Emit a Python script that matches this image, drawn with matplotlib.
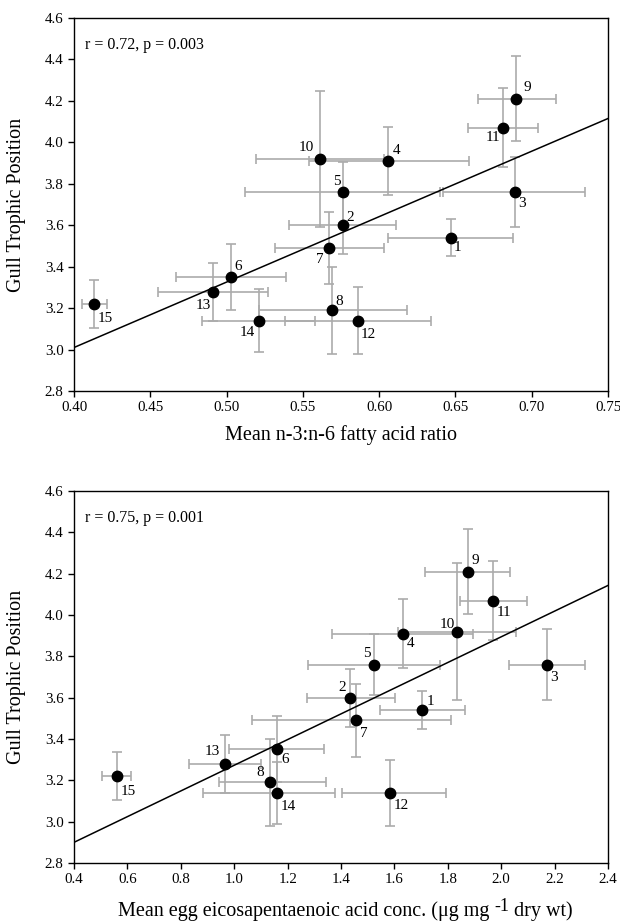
import matplotlib
matplotlib.use("Agg")
import matplotlib.pyplot as plt
from matplotlib.transforms import IdentityTransform
import numpy as np

plt.rcParams['font.family'] = ['Liberation Serif', 'DejaVu Serif']

# ── Data (site number, trophic position, errors) ──
sites = [1, 2, 3, 4, 5, 6, 7, 8, 9, 10, 11, 12, 13, 14, 15]
trophic = [3.54, 3.60, 3.76, 3.91, 3.76, 3.35, 3.49, 3.19, 4.21, 3.92, 4.07, 3.14, 3.28, 3.14, 3.22]
trophic_err = [0.09, 0.14, 0.17, 0.165, 0.147, 0.16, 0.175, 0.21, 0.205, 0.33, 0.19, 0.16, 0.14, 0.15, 0.117]

# n-3:n-6 ratio
ratio = [0.647, 0.576, 0.689, 0.606, 0.576, 0.503, 0.567, 0.569, 0.690, 0.561, 0.681, 0.586, 0.491, 0.521, 0.413]
ratio_lo = [0.606, 0.541, 0.642, 0.554, 0.512, 0.467, 0.532, 0.521, 0.665, 0.519, 0.658, 0.538, 0.455, 0.484, 0.405]
ratio_hi = [0.688, 0.611, 0.735, 0.659, 0.640, 0.539, 0.603, 0.618, 0.716, 0.603, 0.704, 0.634, 0.527, 0.558, 0.4215]

# EPA concentration
epa = [1.705, 1.433, 2.173, 1.633, 1.524, 1.160, 1.456, 1.135, 1.874, 1.834, 1.970, 1.585, 0.967, 1.160, 0.561]
epa_lo = [1.545, 1.274, 2.030, 1.367, 1.276, 0.982, 1.068, 0.942, 1.713, 1.612, 1.846, 1.405, 0.831, 0.883, 0.504]
epa_hi = [1.865, 1.604, 2.313, 1.893, 1.770, 1.338, 1.812, 1.345, 2.034, 2.056, 2.098, 1.793, 1.100, 1.378, 0.612]

# regression lines (end points)
fit1_x = [0.40, 0.75]
fit1_y = [3.01, 4.115]
fit2_x = [0.4, 2.4]
fit2_y = [2.90, 4.143]

# label offsets in pixels (dx, dy up)
off1 = {1: (7, -10), 2: (8, 8), 3: (7, -11), 4: (8, 10), 5: (-6, 11), 6: (7, 11), 7: (-9, -11),
        8: (7, 9), 9: (11, 11), 10: (-13, 11), 11: (-10, -10), 12: (10, -14), 13: (-10, -14),
        14: (-11, -12), 15: (11, -15)}
off2 = {1: (8, 9), 2: (-8, 10), 3: (7, -13), 4: (7, -10), 5: (-7, 11), 6: (8, -10), 7: (8, -13),
        8: (-10, 10), 9: (8, 11), 10: (-10, 7), 11: (11, -12), 12: (11, -13), 13: (-13, 12),
        14: (11, -14), 15: (11, -15)}

fig = plt.figure(figsize=(6.2, 9.22), dpi=100)
ax1 = fig.add_axes([0.1194, 0.5759, 0.8613, 0.4046])
ax2 = fig.add_axes([0.1194, 0.064, 0.8613, 0.4035])


def panel(ax, x, lo, hi, fx, fy, offs, stat):
    x = np.array(x)
    xerr = [x - np.array(lo), np.array(hi) - x]
    ax.errorbar(x, trophic, xerr=xerr, yerr=trophic_err, fmt='none', ecolor='#ababab',
                elinewidth=1.2, capsize=3.8, capthick=1.2, zorder=1)
    ax.plot(fx, fy, color='black', lw=1.1, zorder=2)
    ax.plot(x, trophic, 'o', color='black', ms=7.5, zorder=3)
    for s, xi, yi in zip(sites, x, trophic):
        ax.annotate(str(s), (xi, yi), xytext=offs[s], textcoords='offset pixels',
                    ha='center', va='center', fontsize=11)
    ax.text(0.02, 0.95, stat, transform=ax.transAxes, ha='left', va='top', fontsize=11.5)
    ax.set_ylim(2.8, 4.6)
    ax.set_yticks(np.arange(2.8, 4.61, 0.2))
    ax.set_yticklabels([f"{v:.1f}" for v in np.arange(2.8, 4.61, 0.2)])
    ax.tick_params(direction='out', length=4, width=1, labelsize=10.8, pad=3.5)
    for sp in ax.spines.values():
        sp.set_linewidth(1)
    ax.set_ylabel("Gull Trophic Position", fontsize=14.5)
    ax.yaxis.set_label_coords(-0.09, 0.5)


panel(ax1, ratio, ratio_lo, ratio_hi, fit1_x, fit1_y, off1, "r = 0.72, p = 0.003")
ax1.set_xlim(0.40, 0.75)
ax1.set_xticks(np.arange(0.40, 0.751, 0.05))
ax1.set_xticklabels([f"{v:.2f}" for v in np.arange(0.40, 0.751, 0.05)])
ax1.set_xlabel("Mean n-3:n-6 fatty acid ratio", fontsize=14.5, labelpad=8)

panel(ax2, epa, epa_lo, epa_hi, fit2_x, fit2_y, off2, "r = 0.75, p = 0.001")
ax2.set_xlim(0.4, 2.4)
ax2.set_xticks(np.arange(0.4, 2.41, 0.2))
ax2.set_xticklabels([f"{v:.1f}" for v in np.arange(0.4, 2.41, 0.2)])

# bottom x label with a large raised "-1", built from pieces
pieces = [("Mean egg eicosapentaenoic acid conc. (μg mg ", 14.5, 0),
          ("-1", 13, 5),
          (" dry wt)", 14.5, 0)]
fig.canvas.draw()
rend = fig.canvas.get_renderer()
texts = [fig.text(0, 0, s, fontsize=fs, transform=IdentityTransform(), va='baseline')
         for s, fs, _ in pieces]
widths = [t.get_window_extent(rend).width for t in texts]
bb = ax2.get_window_extent(rend)
x = (bb.x0 + bb.x1) / 2 + 4 - sum(widths) / 2
for t, w, (_, _, dy) in zip(texts, widths, pieces):
    t.set_position((x, 6 + dy))
    x += w

fig.savefig("out.png", dpi=100)
